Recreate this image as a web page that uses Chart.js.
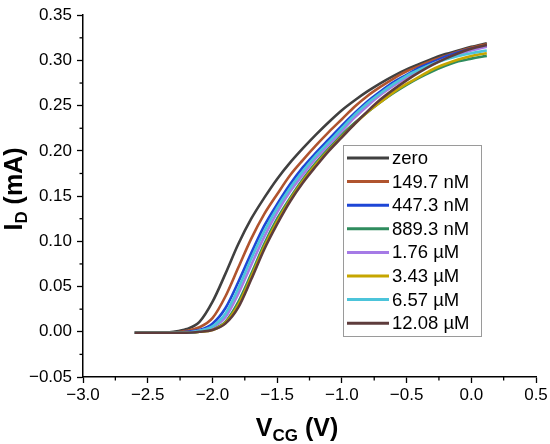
<!DOCTYPE html>
<html>
<head>
<meta charset="utf-8">
<script src="https://cdn.jsdelivr.net/npm/chart.js@4.4.1/dist/chart.umd.min.js"></script>
<style>
html,body{margin:0;padding:0;background:#fff;}
canvas{display:block;}
</style>
</head>
<body>
<canvas id="c" width="550" height="444"></canvas>
<script>
// ---- data ----
const vcg = [-2.6,-2.5,-2.4,-2.3,-2.2,-2.1,-2.0,-1.9,-1.8,-1.7,-1.6,-1.5,-1.4,-1.3,-1.2,-1.1,-1.0,-0.9,-0.8,-0.7,-0.6,-0.5,-0.4,-0.3,-0.2,-0.1,0.0,0.12];
const labels = ["zero","149.7 nM","447.3 nM","889.3 nM","1.76 \u00b5M","3.43 \u00b5M","6.57 \u00b5M","12.08 \u00b5M"];
const zero   = [-0.001,-0.001,-0.001,0.000,0.003,0.011,0.033,0.064,0.097,0.125,0.148,0.169,0.187,0.203,0.218,0.232,0.245,0.256,0.266,0.275,0.283,0.290,0.296,0.302,0.307,0.311,0.315,0.319];
const c149   = [-0.001,-0.001,-0.001,-0.001,0.001,0.005,0.015,0.039,0.071,0.103,0.130,0.152,0.173,0.190,0.206,0.221,0.235,0.249,0.261,0.271,0.280,0.288,0.294,0.300,0.305,0.310,0.314,0.318];
const c447   = [-0.001,-0.001,-0.001,-0.001,0.000,0.002,0.009,0.026,0.055,0.087,0.117,0.141,0.163,0.182,0.198,0.213,0.228,0.242,0.255,0.266,0.276,0.284,0.292,0.298,0.304,0.309,0.313,0.316];
const c889   = [-0.001,-0.001,-0.001,-0.001,-0.001,0.000,0.003,0.011,0.033,0.064,0.097,0.125,0.148,0.169,0.187,0.203,0.218,0.231,0.243,0.254,0.264,0.273,0.281,0.288,0.294,0.299,0.302,0.305];
const c176   = [-0.001,-0.001,-0.001,-0.001,-0.001,0.001,0.005,0.016,0.042,0.074,0.105,0.132,0.155,0.174,0.192,0.207,0.222,0.237,0.250,0.262,0.272,0.281,0.289,0.296,0.302,0.307,0.311,0.315];
const c343   = [-0.001,-0.001,-0.001,-0.001,-0.001,0.000,0.002,0.010,0.030,0.061,0.094,0.122,0.146,0.167,0.185,0.201,0.216,0.230,0.243,0.254,0.265,0.274,0.282,0.290,0.296,0.301,0.305,0.308];
const c657   = [-0.001,-0.001,-0.001,-0.001,-0.001,0.001,0.006,0.020,0.048,0.081,0.111,0.137,0.159,0.178,0.195,0.210,0.225,0.240,0.253,0.264,0.274,0.283,0.290,0.296,0.301,0.305,0.308,0.311];
const c1208  = [-0.001,-0.001,-0.001,-0.001,-0.001,0.000,0.002,0.009,0.027,0.058,0.091,0.119,0.144,0.165,0.183,0.200,0.215,0.230,0.244,0.257,0.268,0.278,0.287,0.295,0.302,0.308,0.313,0.317];
const series = [zero,c149,c447,c889,c176,c343,c657,c1208];
const colors = ["#404040","#b0542e","#1d46d6","#2f8c5e","#a57ae6","#c6a600","#4cc4da","#5e3c3c"];
const xTicks = [-3.0,-2.5,-2.0,-1.5,-1.0,-0.5,0.0,0.5];
const yTicks = [-0.05,0.00,0.05,0.10,0.15,0.20,0.25,0.30,0.35];

const FONT = "'Liberation Sans', Arial, sans-serif";
const fmt = (v,d)=> v.toFixed(d).replace('-', '\u2212');

const datasets = series.map((s,i)=>({
  label: labels[i],
  data: s.map((v,j)=>({x:vcg[j], y:v})),
  borderColor: colors[i],
  backgroundColor: colors[i],
  borderWidth: 2.6,
  pointRadius: 0,
  cubicInterpolationMode: 'monotone',
  fill: false,
  order: series.length - i
}));

const overlay = {
  id: 'overlay',
  afterDraw(chart){
    const ctx = chart.ctx, a = chart.chartArea, xs = chart.scales.x, ys = chart.scales.y;
    ctx.save();
    // minor ticks
    ctx.strokeStyle = '#000'; ctx.lineWidth = 1.3;
    for (let i=0;i<xTicks.length-1;i++){
      const px = xs.getPixelForValue((xTicks[i]+xTicks[i+1])/2);
      ctx.beginPath(); ctx.moveTo(px, a.bottom); ctx.lineTo(px, a.bottom+3.5); ctx.stroke();
    }
    for (let i=0;i<yTicks.length-1;i++){
      const py = ys.getPixelForValue((yTicks[i]+yTicks[i+1])/2);
      ctx.beginPath(); ctx.moveTo(a.left, py); ctx.lineTo(a.left-3.5, py); ctx.stroke();
    }
    // axis titles
    ctx.fillStyle = '#000';
    ctx.textBaseline = 'alphabetic';
    const drawParts = (parts) => {
      let w = 0;
      parts.forEach(p=>{ ctx.font = p.f; p.w = ctx.measureText(p.t).width; w += p.w; });
      let x0 = -w/2;
      parts.forEach(p=>{ ctx.font = p.f; ctx.textAlign='left'; ctx.fillText(p.t, x0, p.dy); x0 += p.w; });
    };
    ctx.save();
    ctx.translate(22, 189);
    ctx.rotate(-Math.PI/2);
    drawParts([
      {t:'I', f:'bold 25px '+FONT, dy:0},
      {t:'D', f:'bold 17px '+FONT, dy:5},
      {t:' (mA)', f:'bold 25px '+FONT, dy:0}
    ]);
    ctx.restore();
    ctx.save();
    ctx.translate(297, 436);
    drawParts([
      {t:'V', f:'bold 25px '+FONT, dy:0},
      {t:'CG', f:'bold 17px '+FONT, dy:5},
      {t:' (V)', f:'bold 25px '+FONT, dy:0}
    ]);
    ctx.restore();
    // legend
    const L = 343, T = 145, R = 481, B = 336;
    ctx.fillStyle = '#fff';
    ctx.fillRect(L, T, R-L, B-T);
    ctx.strokeStyle = '#9a9a9a'; ctx.lineWidth = 1;
    ctx.strokeRect(L+0.5, T+0.5, R-L, B-T);
    ctx.font = '18.5px '+FONT;
    ctx.textAlign = 'left'; ctx.textBaseline = 'middle';
    labels.forEach((lab,i)=>{
      const yy = 158 + i*23.6;
      ctx.strokeStyle = colors[i]; ctx.lineWidth = 3;
      ctx.beginPath(); ctx.moveTo(347, yy); ctx.lineTo(389, yy); ctx.stroke();
      ctx.fillStyle = '#000';
      ctx.fillText(lab, 392, yy+1);
    });
    ctx.restore();
  }
};

new Chart(document.getElementById('c'), {
  type: 'line',
  data: { datasets },
  options: {
    responsive: false,
    animation: false,
    devicePixelRatio: 1,
    layout: { padding: { left: 0, right: 14, top: 12, bottom: 0 } },
    plugins: { legend: { display: false }, tooltip: { enabled: false } },
    scales: {
      x: {
        type: 'linear', min: -3.0, max: 0.5,
        afterBuildTicks: s => { s.ticks = xTicks.map(v=>({value:v})); },
        afterFit: s => { s.height = 67; },
        border: { display: true, color: '#000', width: 1.5 },
        grid: { display: true, drawOnChartArea: false, drawTicks: true, tickLength: 6, tickColor: '#000', tickWidth: 1.3 },
        ticks: { color: '#000', font: { family: FONT, size: 17 }, padding: 2, maxRotation: 0, autoSkip: false,
                 callback: v => fmt(v,1) }
      },
      y: {
        type: 'linear', min: -0.05, max: 0.35,
        afterBuildTicks: s => { s.ticks = yTicks.map(v=>({value:v})); },
        afterFit: s => { s.width = 83; },
        border: { display: true, color: '#000', width: 1.5 },
        grid: { display: true, drawOnChartArea: false, drawTicks: true, tickLength: 6, tickColor: '#000', tickWidth: 1.3 },
        ticks: { color: '#000', font: { family: FONT, size: 17 }, padding: 5, autoSkip: false,
                 callback: v => fmt(v,2) }
      }
    }
  },
  plugins: [overlay]
});
</script>
</body>
</html>
